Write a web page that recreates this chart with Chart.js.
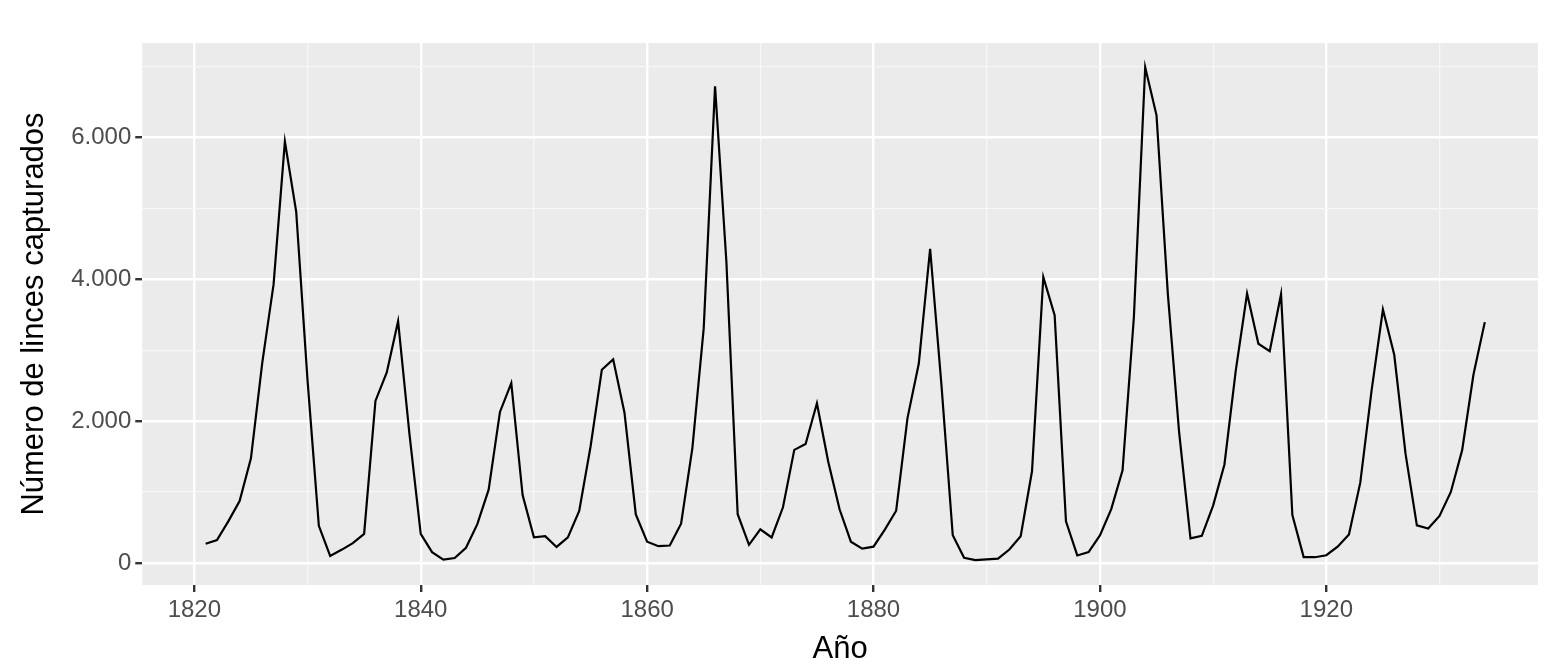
<!DOCTYPE html>
<html lang="es">
<head>
<meta charset="UTF-8">
<title>Linces</title>
<script src="https://cdn.jsdelivr.net/npm/chart.js"></script>
<style>
  html, body { margin: 0; padding: 0; background: #fff; }
  #wrap { width: 1568px; height: 672px; }
</style>
</head>
<body>
<div id="wrap"><canvas id="c"></canvas></div>
<script>
  const startYear = 1821;
  const lynx = [269, 321, 585, 871, 1475, 2821, 3928, 5943, 4950, 2577, 523, 98, 184, 279, 409, 2285, 2685, 3409, 1824, 409,
    151, 45, 68, 213, 546, 1033, 2129, 2536, 957, 361, 377, 225, 360, 731, 1638, 2725, 2871, 2119, 684, 299,
    236, 245, 552, 1623, 3311, 6721, 4254, 687, 255, 473, 358, 784, 1594, 1676, 2251, 1426, 756, 299, 201, 229,
    469, 736, 2042, 2811, 4431, 2511, 389, 73, 39, 49, 59, 188, 377, 1292, 4031, 3495, 587, 105, 153, 387,
    758, 1307, 3465, 6991, 6313, 3794, 1836, 345, 382, 808, 1388, 2713, 3800, 3091, 2985, 3790, 674, 81, 80, 108,
    229, 399, 1132, 2432, 3574, 2935, 1537, 529, 485, 662, 1000, 1590, 2657, 3396];
  const xTicks = [1820, 1830, 1840, 1850, 1860, 1870, 1880, 1890, 1900, 1910, 1920, 1930];
  const yTicks = [0, 1000, 2000, 3000, 4000, 5000, 6000, 7000];

  const points = lynx.map((v, i) => ({ x: startYear + i, y: v }));

  const panelBg = {
    id: 'panelBg',
    beforeDraw(chart) {
      const a = chart.chartArea, ctx = chart.ctx;
      ctx.save();
      ctx.fillStyle = '#EBEBEB';
      ctx.fillRect(a.left, a.top, a.right - a.left, a.bottom - a.top);
      ctx.restore();
    }
  };

  const fmt = v => v.toLocaleString('de-DE');

  new Chart(document.getElementById('c'), {
    type: 'line',
    data: { datasets: [{ data: points, borderColor: '#000', borderWidth: 2.2, pointRadius: 0, tension: 0, fill: false }] },
    plugins: [panelBg],
    options: {
      responsive: true, maintainAspectRatio: false, animation: false,
      layout: { padding: { left: 12, right: 30, top: 43, bottom: 4 } },
      plugins: { legend: { display: false }, tooltip: { enabled: false } },
      scales: {
        x: {
          type: 'linear', min: 1815.4, max: 1938.7,
          afterBuildTicks: s => { s.ticks = xTicks.map(v => ({ value: v })); },
          border: { display: false },
          grid: {
            color: c => (c.tick && c.tick.value % 20 === 0) ? '#FFFFFF' : '#F7F7F7',
            lineWidth: c => (c.tick && c.tick.value % 20 === 0) ? 2.4 : 1.2,
            tickColor: c => (c.tick && c.tick.value % 20 === 0) ? '#333333' : 'rgba(0,0,0,0)',
            tickLength: 7, tickWidth: 2.4
          },
          ticks: {
            autoSkip: false, maxRotation: 0, color: '#4D4D4D', padding: 4,
            font: { family: 'Liberation Sans', size: 24 },
            callback: v => v % 20 === 0 ? String(v) : ''
          },
          title: { display: true, text: 'Año', color: '#000', font: { family: 'Liberation Sans', size: 31 }, padding: { top: 2, bottom: 0 } }
        },
        y: {
          min: -312, max: 7333,
          afterBuildTicks: s => { s.ticks = yTicks.map(v => ({ value: v })); },
          border: { display: false },
          grid: {
            color: c => (c.tick && c.tick.value % 2000 === 0) ? '#FFFFFF' : '#F7F7F7',
            lineWidth: c => (c.tick && c.tick.value % 2000 === 0) ? 2.4 : 1.2,
            tickColor: c => (c.tick && c.tick.value % 2000 === 0) ? '#333333' : 'rgba(0,0,0,0)',
            tickLength: 7, tickWidth: 2.4
          },
          ticks: {
            autoSkip: false, color: '#4D4D4D', padding: 4,
            font: { family: 'Liberation Sans', size: 24 },
            callback: v => v % 2000 === 0 ? fmt(v) : ''
          },
          title: { display: true, text: 'Número de linces capturados', color: '#000', font: { family: 'Liberation Sans', size: 31 }, padding: { bottom: 14 } }
        }
      }
    }
  });
</script>
</body>
</html>
